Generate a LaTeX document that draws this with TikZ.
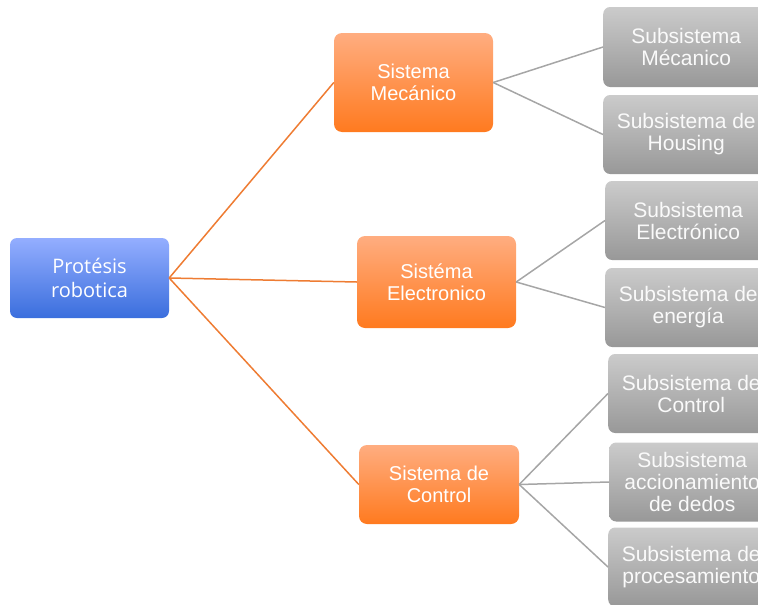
\documentclass[tikz,border=0pt]{standalone}
\usepackage{fontspec}
\setmainfont{Liberation Sans}
\newfontfamily\rootfont{Open Sans}
\definecolor{orangeTop}{HTML}{FFAD80}
\definecolor{orangeBot}{HTML}{FF7A1F}
\definecolor{blueTop}{HTML}{94AEFF}
\definecolor{blueBot}{HTML}{3A6EDD}
\definecolor{grayTop}{HTML}{CBCBCB}
\definecolor{grayBot}{HTML}{989898}
\definecolor{orangeLine}{HTML}{EE7C33}
\definecolor{grayLine}{HTML}{A6A6A6}
\begin{document}
\begin{tikzpicture}[x=1pt,y=-1pt,
    rootbox/.style={rounded corners=7pt,top color=blueTop,bottom color=blueBot,text=white,
      align=center,minimum width=159pt,minimum height=80pt,font=\rootfont\fontsize{20}{24}\selectfont},
    sysbox/.style={rounded corners=8pt,top color=orangeTop,bottom color=orangeBot,text=white,
      align=center,minimum width=159pt,font=\fontsize{20}{22}\selectfont},
    subbox/.style={rounded corners=7pt,top color=grayTop,bottom color=grayBot,text=white!96!gray,
      align=center,minimum width=166pt,minimum height=79pt,anchor=west,font=\fontsize{21}{22}\selectfont},
    orangelink/.style={orangeLine,line width=1.5pt},
    graylink/.style={grayLine,line width=1.5pt}]
  \useasboundingbox (0,0) rectangle (758,605);
  \clip (0,0) rectangle (758,605);
  \node[rootbox] (root) at (89.5,278) {Protésis\\robotica};
  \node[sysbox,minimum height=99pt] (mec) at (413.5,82.5) {Sistema\\Mecánico};
  \node[sysbox,minimum height=92pt] (elec) at (436.5,282) {Sistéma\\Electronico};
  \node[sysbox,minimum height=79pt,minimum width=160pt] (ctrl) at (439,484.5) {Sistema de\\Control};
  \node[subbox,minimum height=80pt] (smec) at (603,47) {Subsistema\\Mécanico};
  \node[subbox] (shous) at (603,134.5) {Subsistema de\\Housing};
  \node[subbox] (selec) at (605,220.5) {Subsistema\\Electrónico};
  \node[subbox] (sener) at (605,307.5) {Subsistema de\\energía};
  \node[subbox] (sctrl) at (608,393.5) {Subsistema de\\Control};
  \node[subbox] (sdedo) at (609,482) {Subsistema\\accionamiento\\de dedos};
  \node[subbox] (sproc) at (608,567) {Subsistema de\\procesamiento};
  \draw[orangelink] (root.east) -- (mec.west);
  \draw[orangelink] (root.east) -- (elec.west);
  \draw[orangelink] (root.east) -- (ctrl.west);
  \draw[graylink] (mec.east) -- (smec.west);
  \draw[graylink] (mec.east) -- (shous.west);
  \draw[graylink] (elec.east) -- (selec.west);
  \draw[graylink] (elec.east) -- (sener.west);
  \draw[graylink] (ctrl.east) -- (sctrl.west);
  \draw[graylink] (ctrl.east) -- (sdedo.west);
  \draw[graylink] (ctrl.east) -- (sproc.west);
\end{tikzpicture}
\end{document}
